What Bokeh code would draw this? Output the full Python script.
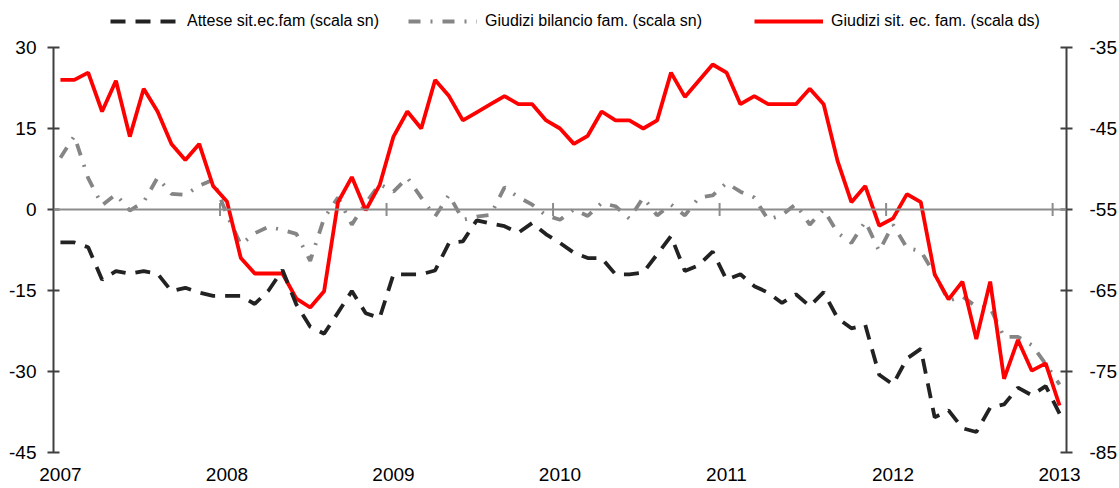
import numpy as np
from bokeh.plotting import figure
from bokeh.models import Range1d, LinearAxis, FixedTicker, Legend, LegendItem, Span
from bokeh.embed import file_html
from bokeh.resources import INLINE

# ---------------- data (monthly, Jan 2007 - Jan 2013) ----------------
years = ["2007", "2008", "2009", "2010", "2011", "2012", "2013"]
months = list(range(73))

# Attese sit.ec.fam (left scale)
attese = [-6.1, -6.1, -7.0, -13.0, -11.4, -11.9, -11.4, -11.9, -15.1, -14.5,
          -15.4, -16.0, -16.0, -16.0, -17.5, -15.0, -11.2, -17.6, -21.7, -23.0,
          -19.1, -15.1, -19.2, -20.1, -12.0, -12.0, -12.0, -11.3, -6.2, -5.9,
          -2.0, -2.6, -3.1, -4.3, -2.5, -4.6, -6.2, -8.0, -9.0, -9.0,
          -12.0, -12.0, -11.7, -8.3, -4.9, -11.4, -10.3, -7.8, -13.0, -12.0,
          -14.2, -15.4, -17.3, -15.7, -17.9, -15.3, -20.1, -22.0, -21.4, -30.6,
          -32.4, -27.6, -25.8, -38.5, -37.2, -40.5, -41.2, -36.7, -36.1, -33.0,
          -34.4, -32.7, -37.8]

# Giudizi bilancio fam. (left scale)
bilancio = [9.6, 13.6, 5.8, 0.8, 2.8, -0.2, 1.4, 5.9, 2.9, 2.7,
            4.4, 5.5, -1.0, -6.5, -4.4, -3.2, -3.8, -4.5, -9.5, -1.6,
            2.2, -2.8, 1.2, 4.7, 3.3, 5.9, 2.2, -1.3, 2.7, -1.9,
            -1.3, -1.0, 4.1, 2.3, 0.9, -1.1, -1.9, 0.0, -1.2, 1.2,
            0.6, -1.7, 2.2, -1.1, 0.9, -1.1, 2.2, 2.6, 4.9, 3.3,
            2.2, -1.9, -1.0, 1.0, -2.8, 0.0, -4.3, -6.2, -2.2, -7.7,
            -2.8, -7.1, -7.7, -12.0, -16.9, -16.1, -18.0, -18.2, -23.6, -23.6,
            -25.1, -28.6, -32.4]

# Giudizi sit. ec. fam. (right scale)
giudizi = [-39.0, -39.0, -38.1, -42.9, -39.1, -46.0, -40.1, -42.9, -46.9, -48.9,
           -46.9, -52.1, -54.0, -61.0, -62.9, -62.9, -62.9, -66.0, -67.1, -65.1,
           -54.1, -51.0, -55.1, -52.0, -46.0, -42.9, -45.0, -39.0, -41.0, -44.0,
           -43.0, -42.0, -41.0, -42.0, -42.0, -44.0, -45.0, -46.9, -45.9, -42.9,
           -44.0, -44.0, -45.0, -44.0, -38.1, -41.1, -39.1, -37.1, -38.1, -42.0,
           -41.0, -42.0, -42.0, -42.0, -40.1, -42.0, -49.0, -54.1, -52.1, -57.0,
           -56.1, -53.1, -54.1, -63.0, -66.1, -63.9, -71.0, -63.9, -75.9, -71.1,
           -74.9, -74.0, -79.2]

left_ticks = [-45, -30, -15, 0, 15, 30]
right_ticks = [-85, -75, -65, -55, -45, -35]

labels = ["Attese sit.ec.fam (scala sn)",
          "Giudizi bilancio fam. (scala sn)",
          "Giudizi sit. ec. fam. (scala ds)"]

FONT = "Liberation Sans"
AXIS_COL = "#404040"
ZERO_COL = "#8c8c8c"

# Frame reaches the top of the canvas so that the legend (drawn inside the
# frame) is not clipped; the axes are bounded to the data scales.
PX_PER_UNIT_L = 5.4          # 405 px for 75 units
FRAME_H = 452
top_left = left_ticks[0] + FRAME_H / PX_PER_UNIT_L
top_right = right_ticks[0] + (top_left - left_ticks[0]) * (right_ticks[-1] - right_ticks[0]) / (left_ticks[-1] - left_ticks[0])

p = figure(width=1119, height=488, output_backend="svg", toolbar_location=None,
           x_range=Range1d(-0.5, 72.5), y_range=Range1d(left_ticks[0], top_left),
           min_border_left=53, min_border_right=52, min_border_top=0,
           min_border_bottom=36, background_fill_color="white",
           border_fill_color="white")
p.extra_y_ranges = {"right": Range1d(right_ticks[0], top_right)}
p.xgrid.visible = False
p.ygrid.visible = False
p.outline_line_color = None

# bottom axis: only labels
p.xaxis.ticker = FixedTicker(ticks=[12 * k for k in range(len(years))])
p.xaxis.major_label_overrides = {12 * k: y for k, y in enumerate(years)}
p.xaxis.axis_line_color = None
p.xaxis.major_tick_line_color = None
p.xaxis.minor_tick_line_color = None
p.xaxis.major_tick_out = 0
p.xaxis.major_tick_in = 0
p.xaxis.major_label_standoff = 15
p.xaxis.major_label_text_font = FONT
p.xaxis.major_label_text_font_size = "19px"
p.xaxis.major_label_text_color = "black"


def style_y(ax, ticks, standoff):
    ax.ticker = FixedTicker(ticks=ticks)
    ax.bounds = (ticks[0], ticks[-1])
    ax.major_label_overrides = {t: str(t) for t in ticks}
    ax.axis_line_color = AXIS_COL
    ax.axis_line_width = 2
    ax.major_tick_line_color = AXIS_COL
    ax.major_tick_line_width = 2
    ax.major_tick_in = 6
    ax.major_tick_out = 6
    ax.minor_tick_line_color = None
    ax.major_label_standoff = standoff
    ax.major_label_text_font = FONT
    ax.major_label_text_font_size = "19px"
    ax.major_label_text_color = "black"


style_y(p.yaxis[0], left_ticks, 11)
ra = LinearAxis(y_range_name="right")
style_y(ra, right_ticks, 17)
p.add_layout(ra, "right")

# zero line with year-boundary ticks
p.add_layout(Span(location=0, dimension="width", line_color=ZERO_COL, line_width=2))
p.scatter(x=[12 * k - 0.5 for k in range(1, len(years))], y=[0] * (len(years) - 1),
          marker="dash", angle=np.pi / 2, size=13, line_color=ZERO_COL, line_width=2)

# series
r_bil = p.line(months, bilancio, line_color="#858585", line_width=3.8,
               line_dash="12 10 2 10")
r_giu = p.line(months, giudizi, y_range_name="right", line_color="#ff0000",
               line_width=3.8)
r_att = p.line(months, attese, line_color="#222222", line_width=3.8,
               line_dash="15 10")

# one legend per entry, placed inside the (tall) frame above the data area
for rend, lab, x in [(r_att, labels[0], 57), (r_bil, labels[1], 355), (r_giu, labels[2], 701)]:
    lg = Legend(items=[LegendItem(label=lab, renderers=[rend])],
                location=(x, FRAME_H - 34), orientation="horizontal",
                glyph_width=69, glyph_height=26, label_height=26,
                label_standoff=8, padding=0, margin=0, spacing=0,
                border_line_color=None, background_fill_alpha=0,
                label_text_font=FONT, label_text_font_size="16px",
                label_text_color="black")
    p.add_layout(lg, "center")

open("out.html", "w").write(file_html(p, INLINE))
